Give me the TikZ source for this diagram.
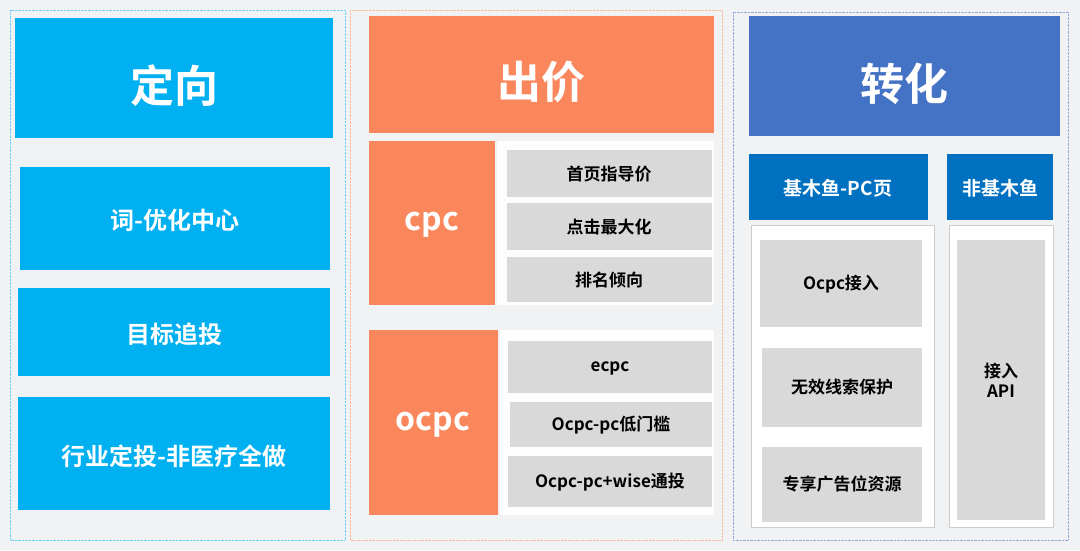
\documentclass[tikz,border=0pt]{standalone}
\usepackage{fontspec}
\setmainfont{Noto Sans CJK SC}[BoldFont={Noto Sans CJK SC Bold}]
\begin{document}
\begin{tikzpicture}[x=1pt,y=-1pt,
 big/.style={font=\bfseries\fontsize{44}{48}\selectfont,text=white},
 mid/.style={font=\bfseries\fontsize{24}{28}\selectfont,text=white},
 sml/.style={font=\bfseries\fontsize{17}{20}\selectfont,text=black,align=center},
 hdr/.style={font=\bfseries\fontsize{19}{22}\selectfont,text=white}]
\definecolor{cyanb}{HTML}{00B0F0}
\definecolor{orng}{HTML}{FA875C}
\definecolor{blu}{HTML}{4472C4}
\definecolor{dblu}{HTML}{0070C0}
\definecolor{gbox}{HTML}{D9D9D9}
\definecolor{bg}{HTML}{F1F2F4}
\fill[bg] (0,0) rectangle (1080,550);
\useasboundingbox (0,0) rectangle (1080,550);
\draw[cyanb!60,densely dotted] (10,10) rectangle (345,540);
\draw[orng!60,densely dotted] (350,10) rectangle (722,540);
\draw[blu!60,densely dotted] (733,12) rectangle (1068,540);
% left
\fill[cyanb] (15,18) rectangle (333,138); \node[big] (a0) at (174,86) {定向};
\fill[cyanb] (20,167) rectangle (330,270); \node[mid] (a1) at (175,220) {词-优化中心};
\fill[cyanb] (18,288) rectangle (330,376); \node[mid] (a2) at (174,334) {目标追投};
\fill[cyanb] (18,397) rectangle (330,510); \node[mid] (a3) at (174,456) {行业定投-非医疗全做};
% middle
\fill[orng] (369,16) rectangle (714,133); \node[big] (b0) at (541,82) {出价};
\fill[orng] (369,141) rectangle (495,305); \node[font=\bfseries\fontsize{32}{36}\selectfont,text=white] (b1) at (432,225) {cpc};
\fill[white!95!gbox] (497,141) rectangle (714,305);
\fill[gbox] (507,150) rectangle (712,197); \node[sml] at (609,174) {首页指导价};
\fill[gbox] (507,203) rectangle (712,250); \node[sml] at (609,227) {点击最大化};
\fill[gbox] (507,257) rectangle (712,302); \node[sml] at (609,280) {排名倾向};
\fill[orng] (369,330) rectangle (498,515); \node[font=\bfseries\fontsize{32}{36}\selectfont,text=white] (b2) at (433,425) {ocpc};
\fill[white!95!gbox] (500,330) rectangle (714,515);
\fill[gbox] (508,341) rectangle (712,393); \node[sml] at (610,368) {ecpc};
\fill[gbox] (510,402) rectangle (712,447); \node[sml] at (611,425) {Ocpc-pc低门槛};
\fill[gbox] (508,456) rectangle (712,507); \node[sml] at (610,482) {Ocpc-pc+wise通投};
% right
\fill[blu] (749,16) rectangle (1060,136); \node[big] (c0) at (904,84) {转化};
\fill[dblu] (749,154) rectangle (928,220); \node[hdr] at (838,188) {基木鱼-PC页};
\fill[dblu] (947,154) rectangle (1053,220); \node[hdr] at (1000,188) {非基木鱼};
\draw[gray!40,fill=white] (751,225) rectangle (934,527);
\fill[gbox] (760,240) rectangle (922,327); \node[sml] at (841,284) {Ocpc接入};
\fill[gbox] (762,348) rectangle (922,427); \node[sml] at (842,387) {无效线索保护};
\fill[gbox] (762,447) rectangle (922,522); \node[sml] at (842,484) {专享广告位资源};
\draw[gray!40,fill=white] (949,225) rectangle (1053,527);
\fill[gbox] (957,240) rectangle (1045,520); \node[sml] at (1001,380) {接入\\API};
\end{tikzpicture}
\end{document}
